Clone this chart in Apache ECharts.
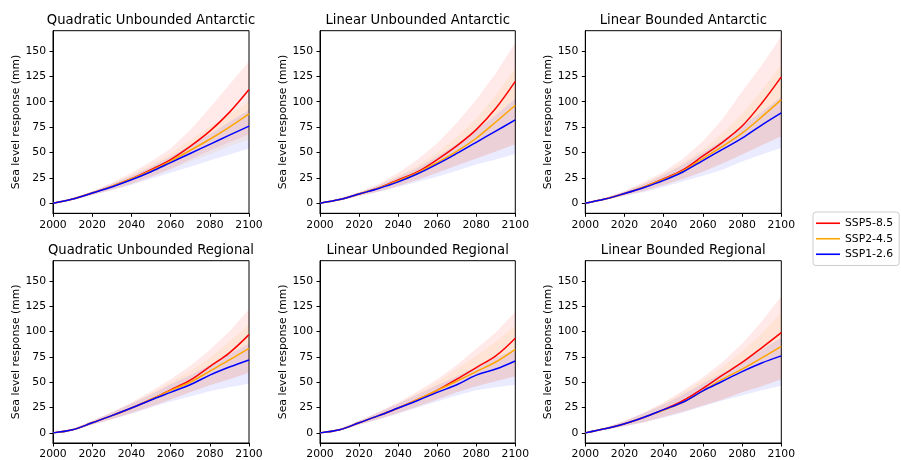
<!DOCTYPE html>
<html>
<head>
<meta charset="utf-8">
<script src="https://cdn.jsdelivr.net/npm/echarts@6/dist/echarts.min.js"></script>
<style>
  html, body { margin: 0; padding: 0; background: #fff; }
  #chart { width: 901px; height: 460px; }
</style>
</head>
<body>
<div id="chart"></div>
<script>
// Projection years (decadal)
const years = [2000, 2010, 2020, 2030, 2040, 2050, 2060, 2070, 2080, 2090, 2100];

const scenarios = ['SSP5-8.5', 'SSP2-4.5', 'SSP1-2.6'];
const yTicks = [0, 25, 50, 75, 100, 125, 150];

const panelTitles = [
  'Quadratic Unbounded Antarctic', 'Linear Unbounded Antarctic', 'Linear Bounded Antarctic',
  'Quadratic Unbounded Regional', 'Linear Unbounded Regional', 'Linear Bounded Regional'
];

// Quadratic Unbounded Antarctic (median, lower, upper) in mm
const quadUnbAnt_585    = [0, 4, 10, 16.5, 24, 33, 43, 56, 71, 89.5, 112];
const quadUnbAnt_585_lo = [0, 3, 8, 13, 19, 26, 34, 43, 52, 60, 68];
const quadUnbAnt_585_hi = [0, 5, 12, 20, 30, 41, 54, 72, 94, 117, 140];
const quadUnbAnt_245    = [0, 4, 10, 16.5, 24, 32, 41.5, 52, 63, 75, 88];
const quadUnbAnt_245_lo = [0, 3, 8, 13, 19, 26, 33, 41, 48, 56, 63];
const quadUnbAnt_245_hi = [0, 4.5, 11.5, 19, 28, 38, 49, 62, 75, 88, 100];
const quadUnbAnt_126    = [0, 4, 10, 16, 23, 31, 40, 49, 58, 67, 76];
const quadUnbAnt_126_lo = [0, 3, 8, 13, 18, 24, 30, 36, 42, 48, 54];
const quadUnbAnt_126_hi = [0, 4.5, 11.5, 19, 27, 36, 46, 57, 68, 80, 92];

// Linear Unbounded Antarctic
const linUnbAnt_585    = [0, 3.5, 9, 15, 23, 31, 43, 56.5, 72.5, 93.5, 120];
const linUnbAnt_585_lo = [0, 2.5, 7, 11.5, 17, 23, 30, 37, 44, 51, 58];
const linUnbAnt_585_hi = [0, 4.5, 11, 19, 30, 43, 59, 79, 102, 128, 158];
const linUnbAnt_245    = [0, 3.5, 9, 15, 22, 30, 40, 51, 64, 80, 96.5];
const linUnbAnt_245_lo = [0, 2.5, 7, 11.5, 17, 23, 30, 37, 44, 51, 58];
const linUnbAnt_245_hi = [0, 4.5, 10.5, 18, 27, 37, 50, 65, 83, 106, 133];
const linUnbAnt_126    = [0, 3.5, 9, 14.5, 21, 29, 38.5, 49, 60, 71, 82];
const linUnbAnt_126_lo = [0, 2.5, 7, 11, 16, 21, 26, 32, 38, 43, 48.5];
const linUnbAnt_126_hi = [0, 4.5, 10.5, 17.5, 26, 35, 46, 58, 72, 87, 103];

// Linear Bounded Antarctic
const linBndAnt_585    = [0, 4, 9.5, 16, 24, 33, 46.5, 60, 76, 98.5, 124.5];
const linBndAnt_585_lo = [0, 3, 7.5, 12, 18, 24, 31, 39, 48, 57, 66];
const linBndAnt_585_hi = [0, 5, 12, 21, 31, 44, 61, 83, 110, 136, 164.5];
const linBndAnt_245    = [0, 4, 9.5, 16, 23.5, 32, 44, 56, 69, 85, 102];
const linBndAnt_245_lo = [0, 3, 7.5, 12, 18, 24, 31, 39, 48, 57, 66];
const linBndAnt_245_hi = [0, 5, 11.5, 19.5, 29, 40, 53, 69, 88, 111, 136.5];
const linBndAnt_126    = [0, 4, 9.5, 15.5, 22.5, 31, 42, 53, 64, 77, 89];
const linBndAnt_126_lo = [0, 3, 7, 11, 16, 21.5, 27, 33, 41, 48, 54.5];
const linBndAnt_126_hi = [0, 5, 11.5, 19, 28, 38, 50, 62, 76, 90, 105];

// Quadratic Unbounded Regional
const quadUnbReg_585    = [0, 3, 10, 17, 24.5, 33, 42.5, 52, 65.5, 79, 97];
const quadUnbReg_585_lo = [0, 2, 8, 13.5, 19.5, 26, 33, 40, 47, 53, 59];
const quadUnbReg_585_hi = [0, 4, 12, 20.5, 30, 41, 53, 66, 82, 100, 122];
const quadUnbReg_245    = [0, 3, 10, 17, 24.5, 33, 42, 50, 61, 72, 83.5];
const quadUnbReg_245_lo = [0, 2, 8, 13.5, 19.5, 26, 33, 40, 47, 53, 60];
const quadUnbReg_245_hi = [0, 4, 12, 20, 29, 39, 50, 61, 74, 90, 107];
const quadUnbReg_126    = [0, 3, 10, 17, 24.5, 32.5, 40, 47.5, 57, 65, 72];
const quadUnbReg_126_lo = [0, 2, 8, 13.5, 19, 25, 31, 36, 41, 45, 48.5];
const quadUnbReg_126_hi = [0, 4, 12, 20, 29, 38, 48, 57, 67, 78, 88];

// Linear Unbounded Regional
const linUnbReg_585    = [0, 3, 10, 17, 24.5, 33, 42, 53, 64.5, 76, 93.5];
const linUnbReg_585_lo = [0, 2, 8, 13.5, 19.5, 26, 33, 40, 46, 51, 56];
const linUnbReg_585_hi = [0, 4, 12, 20.5, 30, 41, 53, 67, 83, 99, 119.5];
const linUnbReg_245    = [0, 3, 10, 17, 24.5, 33, 42, 51, 60.5, 70, 82.5];
const linUnbReg_245_lo = [0, 2, 8, 13.5, 19.5, 26, 33, 40, 46, 51, 56];
const linUnbReg_245_hi = [0, 4, 12, 20, 29, 39, 50, 63, 76, 90, 106];
const linUnbReg_126    = [0, 3, 10, 17, 24.5, 32, 40, 47.5, 57, 63, 71];
const linUnbReg_126_lo = [0, 2, 8, 13.5, 19, 25, 31, 37, 42, 45, 47.5];
const linUnbReg_126_hi = [0, 4, 12, 20, 29, 38, 47, 56, 65, 74, 83];

// Linear Bounded Regional
const linBndReg_585    = [0, 4, 9, 15.5, 23, 32, 44, 57, 69.5, 84, 99];
const linBndReg_585_lo = [0, 3, 6.5, 10.5, 16, 21, 27, 33, 40, 46, 53];
const linBndReg_585_hi = [0, 5, 12, 20, 30, 42, 55, 70, 88, 110, 135];
const linBndReg_245    = [0, 4, 9, 15.5, 22.5, 30.5, 41.5, 53, 63, 74, 85.5];
const linBndReg_245_lo = [0, 3, 6.5, 10.5, 16, 21, 27, 33, 40, 46, 53];
const linBndReg_245_hi = [0, 5, 11.5, 19.5, 29, 40, 52, 65, 80, 98, 118.5];
const linBndReg_126    = [0, 4, 9, 15.5, 23, 30.5, 41.5, 51, 60.5, 69, 76];
const linBndReg_126_lo = [0, 3, 6.5, 10.5, 15, 20, 26, 32, 37, 42, 46.5];
const linBndReg_126_hi = [0, 5, 11.5, 19.5, 28, 38, 49, 59, 70, 82, 94];

// [median, lower, upper] per scenario, per panel
const panelData = [
  [[quadUnbAnt_585, quadUnbAnt_585_lo, quadUnbAnt_585_hi], [quadUnbAnt_245, quadUnbAnt_245_lo, quadUnbAnt_245_hi], [quadUnbAnt_126, quadUnbAnt_126_lo, quadUnbAnt_126_hi]],
  [[linUnbAnt_585, linUnbAnt_585_lo, linUnbAnt_585_hi], [linUnbAnt_245, linUnbAnt_245_lo, linUnbAnt_245_hi], [linUnbAnt_126, linUnbAnt_126_lo, linUnbAnt_126_hi]],
  [[linBndAnt_585, linBndAnt_585_lo, linBndAnt_585_hi], [linBndAnt_245, linBndAnt_245_lo, linBndAnt_245_hi], [linBndAnt_126, linBndAnt_126_lo, linBndAnt_126_hi]],
  [[quadUnbReg_585, quadUnbReg_585_lo, quadUnbReg_585_hi], [quadUnbReg_245, quadUnbReg_245_lo, quadUnbReg_245_hi], [quadUnbReg_126, quadUnbReg_126_lo, quadUnbReg_126_hi]],
  [[linUnbReg_585, linUnbReg_585_lo, linUnbReg_585_hi], [linUnbReg_245, linUnbReg_245_lo, linUnbReg_245_hi], [linUnbReg_126, linUnbReg_126_lo, linUnbReg_126_hi]],
  [[linBndReg_585, linBndReg_585_lo, linBndReg_585_hi], [linBndReg_245, linBndReg_245_lo, linBndReg_245_hi], [linBndReg_126, linBndReg_126_lo, linBndReg_126_hi]]
];

// ---- styling / layout ----
const FONT = 'DejaVu Sans';
const lineColors = ['#ff0000', '#ffa500', '#0000ff'];
const bandColors = ['rgba(255,0,0,0.085)', 'rgba(255,165,0,0.09)', 'rgba(0,0,255,0.08)'];
const colLeft = [53, 320, 585.3];
const colWidth = [196, 195.3, 196];
const rowTop = [30.7, 260.7];
const plotHeight = 182.6;

const chart = echarts.init(document.getElementById('chart'), null, { renderer: 'canvas' });

const grids = [], xAxes = [], yAxes = [], titles = [], series = [];

// Shaded range between lower and upper bound, drawn as one polygon per scenario
function bandRenderer(lo, hi, color) {
  return function (params, api) {
    if (params.dataIndex !== 0) return null;
    const upper = years.map((y, i) => api.coord([y, hi[i]]));
    const lower = years.map((y, i) => api.coord([y, lo[i]])).reverse();
    return {
      type: 'polygon',
      shape: { points: upper.concat(lower) },
      style: { fill: color, stroke: null }
    };
  };
}

panelTitles.forEach((title, p) => {
  const col = p % 3, row = Math.floor(p / 3);
  grids.push({
    left: colLeft[col], top: rowTop[row], width: colWidth[col], height: plotHeight,
    show: true, borderColor: '#000', borderWidth: 1, backgroundColor: 'transparent'
  });
  titles.push({
    text: title,
    left: colLeft[col] + colWidth[col] / 2,
    top: rowTop[row] - 17,
    padding: 0,
    textAlign: 'center',
    textStyle: { fontFamily: FONT, fontSize: 13.2, fontWeight: 'normal', color: '#000' }
  });
  xAxes.push({
    gridIndex: p, type: 'value', min: 2000, max: 2100, interval: 20,
    axisLine: { show: true, onZero: false, lineStyle: { color: '#000', width: 1 } },
    axisTick: { show: true, length: 3.5, lineStyle: { color: '#000' } },
    axisLabel: { show: true, margin: 6, fontFamily: FONT, fontSize: 10.8, color: '#000',
                 showMinLabel: true, showMaxLabel: true, formatter: v => String(v) },
    splitLine: { show: false }
  });
  yAxes.push({
    gridIndex: p, type: 'value', min: -10, max: 170,
    name: 'Sea level response (mm)', nameLocation: 'middle', nameGap: 31,
    nameTextStyle: { fontFamily: FONT, fontSize: 10.8, color: '#000' },
    axisLine: { show: true, onZero: false, lineStyle: { color: '#000', width: 1 } },
    axisTick: { show: true, length: 3.5, lineStyle: { color: '#000' }, customValues: yTicks },
    axisLabel: { show: true, margin: 7, fontFamily: FONT, fontSize: 10.8, color: '#000', customValues: yTicks },
    splitLine: { show: false }
  });

  // uncertainty bands
  panelData[p].forEach((set, s) => {
    const [mid, lo, hi] = set;
    series.push({
      type: 'custom', xAxisIndex: p, yAxisIndex: p,
      data: years.map((y, i) => [y, lo[i], hi[i]]),
      encode: { x: 0, y: [1, 2] },
      renderItem: bandRenderer(lo, hi, bandColors[s]),
      clip: true, silent: true, z: 1
    });
  });
  // median projections
  panelData[p].forEach((set, s) => {
    const mid = set[0];
    series.push({
      name: scenarios[s],
      type: 'line', xAxisIndex: p, yAxisIndex: p,
      data: years.map((y, i) => [y, mid[i]]),
      symbol: 'none', smooth: 0.35, z: 3,
      itemStyle: { color: lineColors[s] },
      lineStyle: { color: lineColors[s], width: 1.5 }
    });
  });
});

chart.setOption({
  animation: false,
  backgroundColor: '#fff',
  title: titles,
  grid: grids,
  xAxis: xAxes,
  yAxis: yAxes,
  legend: {
    data: scenarios.map(n => ({ name: n, icon: 'rect' })),
    orient: 'vertical',
    left: 813, top: 212,
    itemWidth: 24, itemHeight: 1.6, itemGap: 3,
    itemTextGap: 9,
    padding: [5, 6, 5, 3],
    borderColor: '#cccccc', borderWidth: 1, borderRadius: 3,
    textStyle: { fontFamily: FONT, fontSize: 10.8, color: '#000', lineHeight: 12.5 },
    selectedMode: false
  },
  series: series
});
</script>
</body>
</html>
